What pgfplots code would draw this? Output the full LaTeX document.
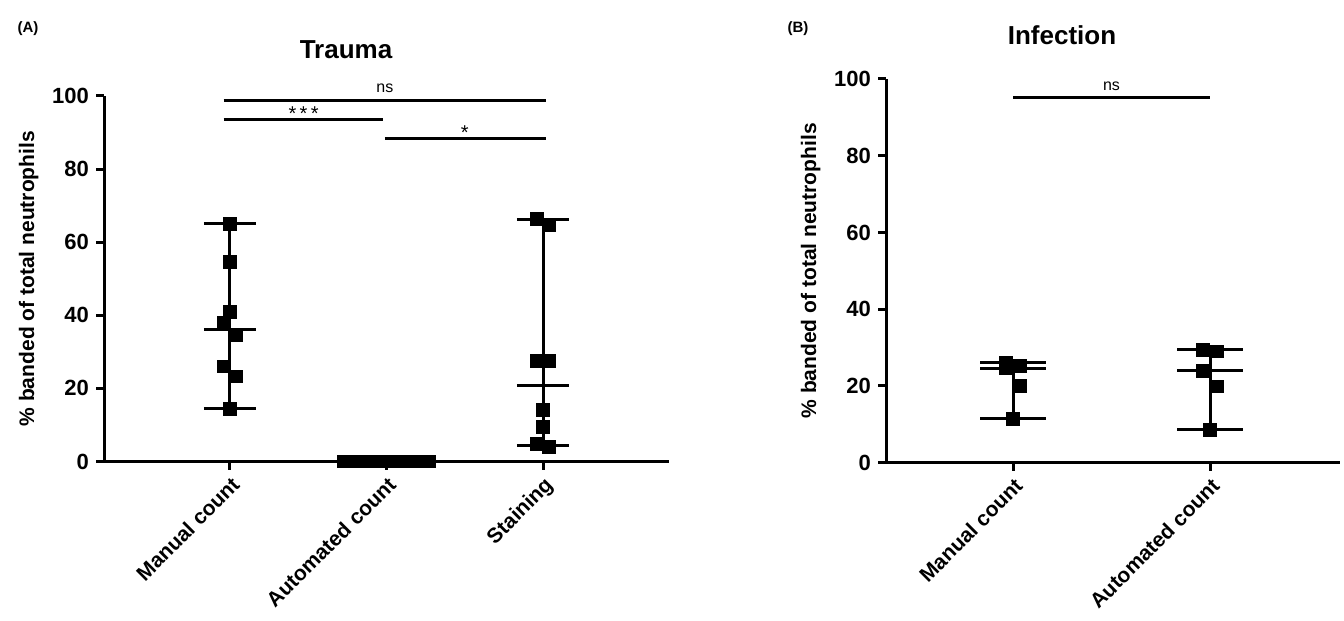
\documentclass[border=0pt]{standalone}
\usepackage{fontspec}
\setmainfont{Liberation Sans}
\usepackage{pgfplots}
\pgfplotsset{compat=1.18}

\pgfplotsset{
  gp/.style={
    scale only axis, clip=false, anchor=south west,
    axis x line*=bottom, axis y line*=left,
    axis line style={line width=1.5pt},
    ymin=0, ymax=100, ytick={0,20,...,100},
    tick align=outside, major tick length=4pt,
    every tick/.style={black, line width=1.5pt},
    /pgf/number format/assume math mode=true,
    yticklabel style={font=\fontsize{11}{13}\selectfont\bfseries},
    xticklabel style={font=\fontsize{10.5}{12}\selectfont\bfseries, rotate=45, anchor=north east, inner sep=2pt},
    ylabel={\% banded of total neutrophils},
    ylabel style={font=\fontsize{10.5}{12}\selectfont\bfseries},
  },
  pts/.style={only marks, mark=square*, mark size=3.2pt, black},
  seg/.style={black, line width=1.5pt, forget plot},
}

\begin{document}
\begin{tikzpicture}

% (A) Trauma
\begin{axis}[gp, at={(52pt,79.75pt)}, width=282.5pt, height=182.75pt,
  xmin=0.195, xmax=3.805, xtick={1,2,3},
  xticklabels={Manual count, Automated count, Staining}]
  % manual count: range and median
  \addplot[seg] coordinates {(1,14.5) (1,65)};
  \addplot[seg] coordinates {(0.833,65) (1.167,65)};
  \addplot[seg] coordinates {(0.833,14.5) (1.167,14.5)};
  \addplot[seg] coordinates {(0.833,36.25) (1.167,36.25)};
  \addplot[pts] coordinates {
    (1,65) (1,54.5) (1,41) (0.96,38) (1.04,34.5) (0.96,26) (1.04,23.3) (1,14.5)};
  % automated count
  \addplot[pts] coordinates {
    (1.727,0) (1.805,0) (1.883,0) (1.961,0) (2.039,0) (2.117,0) (2.195,0) (2.273,0)};
  % staining
  \addplot[seg] coordinates {(3,4.1) (3,66.3)};
  \addplot[seg] coordinates {(2.833,66.3) (3.167,66.3)};
  \addplot[seg] coordinates {(2.833,4.4) (3.167,4.4)};
  \addplot[seg] coordinates {(2.833,20.85) (3.167,20.85)};
  \addplot[pts] coordinates {
    (2.96,66.3) (3.04,64.6) (2.96,27.5) (3.04,27.5) (3,14.2) (3,9.4) (2.96,4.9) (3.04,4.1)};
  % significance
  \addplot[seg] coordinates {(0.96,98.8) (3.02,98.8)};
  \addplot[seg] coordinates {(0.96,93.6) (1.98,93.6)};
  \addplot[seg] coordinates {(1.99,88.5) (3.02,88.5)};
  \node[font=\fontsize{8}{9}\selectfont] at (axis cs:1.99,102) {ns};
  \node[font=\fontsize{10}{11}\selectfont] at (axis cs:1.47,95.2) {*\,*\,*};
  \node[font=\fontsize{10}{11}\selectfont] at (axis cs:2.5,90.1) {*};
\end{axis}

% (B) Infection
\begin{axis}[gp, at={(443pt,79.15pt)}, width=227pt, height=191.85pt,
  xmin=0.355, xmax=2.66, xtick={1,2},
  xticklabels={Manual count, Automated count}]
  \addplot[seg] coordinates {(1,11.4) (1,26.1)};
  \addplot[seg] coordinates {(0.833,26.1) (1.167,26.1)};
  \addplot[seg] coordinates {(0.833,11.4) (1.167,11.4)};
  \addplot[seg] coordinates {(0.833,24.6) (1.167,24.6)};
  \addplot[pts] coordinates {(0.965,26.1) (0.965,24.6) (1.035,25.3) (1.035,20.1) (1,11.4)};
  \addplot[seg] coordinates {(2,8.6) (2,29.5)};
  \addplot[seg] coordinates {(1.833,29.5) (2.167,29.5)};
  \addplot[seg] coordinates {(1.833,8.6) (2.167,8.6)};
  \addplot[seg] coordinates {(1.833,24.0) (2.167,24.0)};
  \addplot[pts] coordinates {(1.965,29.5) (2.035,29.0) (1.965,24.0) (2.035,19.9) (2,8.6)};
  \addplot[seg] coordinates {(1,95.1) (2,95.1)};
  \node[font=\fontsize{8}{9}\selectfont] at (axis cs:1.5,98) {ns};
\end{axis}

\node[font=\fontsize{13}{15}\selectfont\bfseries] at (173pt,285.5pt) {Trauma};
\node[font=\fontsize{13}{15}\selectfont\bfseries] at (531pt,293pt) {Infection};
\node[font=\fontsize{7.5}{9}\selectfont\bfseries] at (14pt,296pt) {(A)};
\node[font=\fontsize{7.5}{9}\selectfont\bfseries] at (399pt,296pt) {(B)};

\pgfresetboundingbox
\path (0,0) rectangle (672pt,310.5pt);
\end{tikzpicture}
\end{document}
